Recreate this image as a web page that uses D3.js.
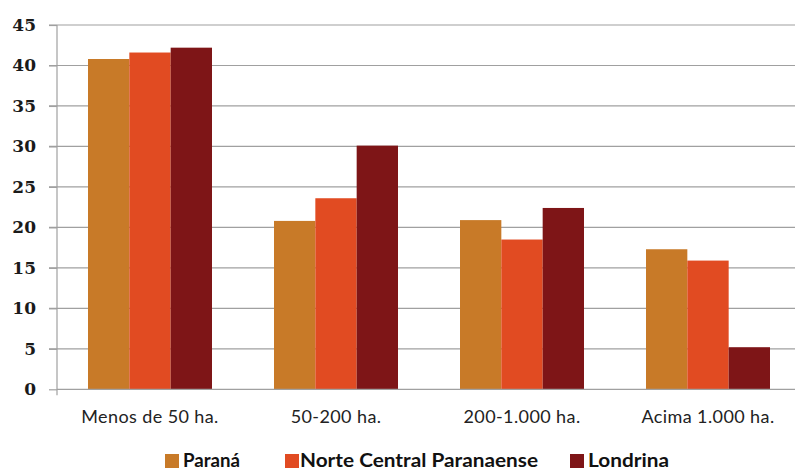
<!DOCTYPE html>
<html><head><meta charset="utf-8">
<script src="https://cdn.jsdelivr.net/npm/d3@7"></script>
<style>body{margin:0;background:#fff}svg{display:block}</style>
</head><body>
<svg id="c" width="795" height="472"></svg>
<script>
const categories = ["Menos de 50 ha.", "50-200 ha.", "200-1.000 ha.", "Acima 1.000 ha."];
const seriesNames = ["Paraná", "Norte Central Paranaense", "Londrina"];
const parana = [40.8, 20.8, 20.9, 17.3];
const norteCentral = [41.6, 23.6, 18.5, 15.9];
const londrina = [42.2, 30.1, 22.4, 5.2];
const yTicks = [0, 5, 10, 15, 20, 25, 30, 35, 40, 45];
const colors = ["#C87A28", "#E14B22", "#7E1517"];

const series = [parana, norteCentral, londrina];
const svg = d3.select("#c");
const x0 = 57, x1 = 801, yTop = 25, yBot = 389.3;

const x = d3.scaleBand().domain(categories).range([x0, x1]).paddingInner(0).paddingOuter(0);
const inner = d3.scaleBand().domain(d3.range(3)).range([0, x.bandwidth()]).paddingInner(0).paddingOuter(0.75);
const y = d3.scaleLinear().domain([0, 45]).range([yBot, yTop]);

// gridlines
svg.append("g").selectAll("line").data(yTicks.filter(d => d > 0)).join("line")
  .attr("x1", x0 - 8).attr("x2", 795)
  .attr("y1", d => y(d)).attr("y2", d => y(d))
  .attr("stroke", "#a0a0a0").attr("stroke-width", 1.2);

// y axis
const yAxis = svg.append("g").attr("transform", `translate(${x0},0)`)
  .call(d3.axisLeft(y).tickValues(yTicks).tickSize(8).tickPadding(13));
yAxis.select(".domain").remove();
yAxis.selectAll(".tick line").attr("stroke", "#a0a0a0").attr("stroke-width", 1.2);
yAxis.selectAll(".tick text")
  .style("font-family", "'DejaVu Serif', serif")
  .style("font-weight", "bold").style("font-size", "17px").attr("fill", "#1a1a1a");

// bars
categories.forEach((c, i) => {
  series.forEach((s, j) => {
    svg.append("rect")
      .attr("x", x(c) + inner(j)).attr("width", inner.bandwidth())
      .attr("y", y(s[i])).attr("height", y(0) - y(s[i]))
      .attr("fill", colors[j]);
  });
});

// vertical axis line
svg.append("line").attr("x1", x0).attr("x2", x0).attr("y1", yTop).attr("y2", yBot + 6)
  .attr("stroke", "#a0a0a0").attr("stroke-width", 1.2);

// x axis
const xAxis = svg.append("g").attr("transform", `translate(0,${yBot})`)
  .call(d3.axisBottom(x).tickSize(0).tickPadding(21));
xAxis.select(".domain").attr("stroke", "#a0a0a0").attr("stroke-width", 1.2).attr("d", `M${x0},0H795`);
xAxis.selectAll(".tick text")
  .style("font-family", "Lato, sans-serif")
  .style("font-size", "18px").style("letter-spacing", "0.4px").attr("fill", "#222");

// legend
const legendX = [165, 285, 570];
const legendW = [57, 238, 81];
const lg = svg.append("g");
seriesNames.forEach((n, j) => {
  lg.append("rect").attr("x", legendX[j]).attr("y", 454).attr("width", 14).attr("height", 14).attr("fill", colors[j]);
  lg.append("text").attr("x", legendX[j] + (j === 1 ? 15 : 18)).attr("y", 467).text(n)
    .attr("textLength", legendW[j]).attr("lengthAdjust", "spacingAndGlyphs")
    .style("font-family", "Lato, sans-serif").style("font-weight", "bold").style("font-size", "18px")
    .attr("fill", "#111");
});
</script>
</body></html>
